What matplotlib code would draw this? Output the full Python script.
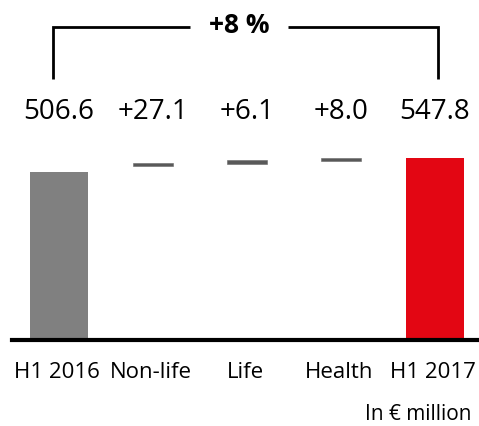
import numpy as np
import matplotlib
matplotlib.use("Agg")
import matplotlib.pyplot as plt

categories = ["H1 2016", "Non-life", "Life", "Health", "H1 2017"]
values = [506.6, 27.1, 6.1, 8.0, 547.8]
labels = ["506.6", "+27.1", "+6.1", "+8.0", "547.8"]
growth = "+8 %"
unit = "In € million"

GREY, RED, STEP = "#808080", "#e30613", "#595959"
plt.rcParams["font.family"] = ["Open Sans", "DejaVu Sans"]

W, H = 479, 427
fig = plt.figure(figsize=(W / 100, H / 100), dpi=100)
ax = fig.add_axes([12 / W, 86 / H, 467 / W, 341 / H])
ax.set_xlim(-0.5, 4.47)
ax.set_ylim(12, 1016)
ax.axis("off")

x = np.arange(len(categories))
# totals (axis is cut, so bars start below the visible range)
ax.bar(x[0], values[0], width=0.62, color=GREY)
ax.bar(x[-1], values[-1], width=0.62, color=RED)
# increments drawn as thin steps near the running total
cum = values[0]
thick = [6, 12, 10]
for i in range(1, 4):
    cum += values[i]
    ax.bar(x[i], thick[i - 1], width=0.42, bottom=cum - 5 - thick[i - 1] / 2,
           color=STEP, edgecolor="#6a6a6a", linewidth=0.4)

# baseline
ax.axhline(12, color="black", lw=3, clip_on=False)

for xi, lab in zip(x, labels):
    ax.text(xi, 686, lab, ha="center", va="center", fontsize=20)
for xi, cat in zip(x, categories):
    ax.text(xi - 0.02, -82, cat, ha="center", va="center", fontsize=16,
            clip_on=False)
ax.text(4.39, -205, unit, ha="right", va="center", fontsize=15, clip_on=False)

# growth bracket
yb, yt = 780, 933
ax.plot([-0.06, -0.06, 1.39], [yb, yt, yt], color="black", lw=2,
        solid_capstyle="butt", solid_joinstyle="miter", clip_on=False)
ax.plot([2.44, 4.03, 4.03], [yt, yt, yb], color="black", lw=2,
        solid_capstyle="butt", solid_joinstyle="miter", clip_on=False)
ax.text(1.915, yt + 8, growth, ha="center", va="center", fontsize=19,
        fontweight="bold")

fig.savefig("out.png", dpi=100)
